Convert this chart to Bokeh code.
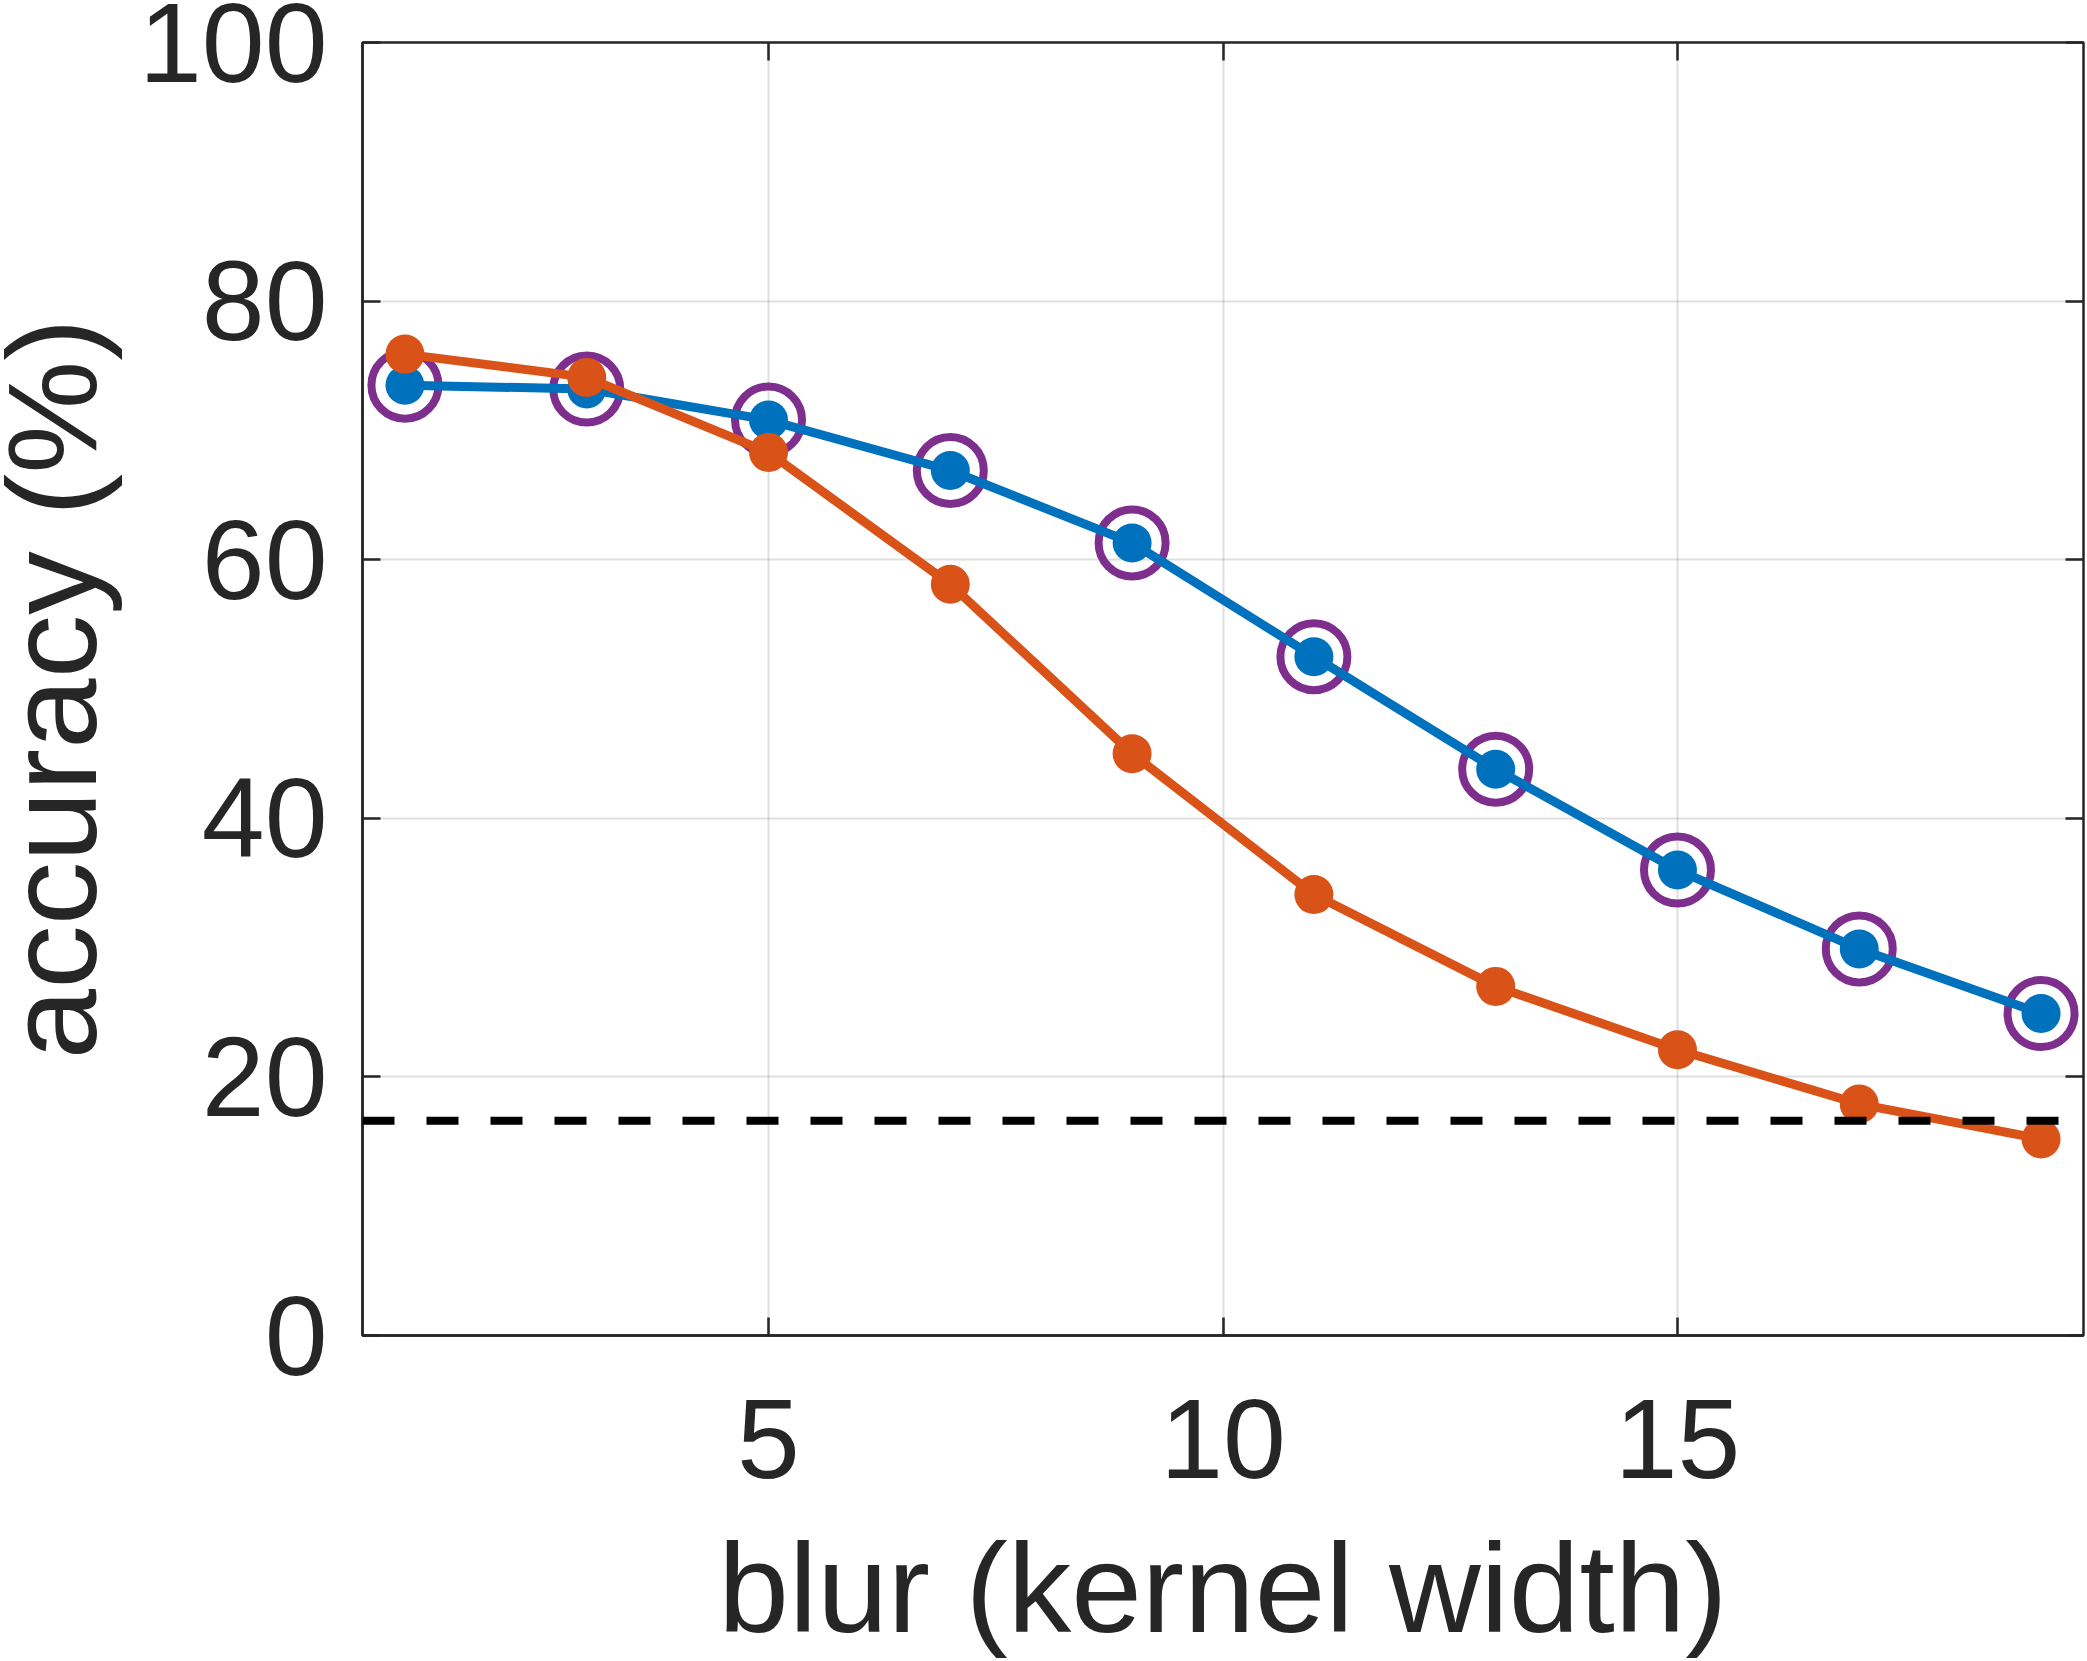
from bokeh.plotting import figure
from bokeh.models import LinearAxis, FixedTicker, Range1d, Span
from bokeh.embed import file_html
from bokeh.resources import INLINE

# ---- data ----
blur_width = [1, 3, 5, 7, 9, 11, 13, 15, 17, 19]
acc_blue = [73.5, 73.2, 70.8, 66.9, 61.3, 52.5, 43.8, 36.0, 29.9, 24.9]
acc_orange = [75.9, 74.1, 68.3, 58.1, 45.0, 34.1, 27.0, 22.1, 17.9, 15.2]
chance_level = 16.6
x_ticks = [5, 10, 15]
y_ticks = [0, 20, 40, 60, 80, 100]
x_label = "blur (kernel width)"
y_label = "accuracy (%)"

BLUE = "#0072BD"
ORANGE = "#D95319"
PURPLE = "#7E2F8E"
DARK = "#262626"
FONT = "Liberation Sans"

SHIFT = 27  # canvas starts slightly left of the page so the y title can hug the edge

p = figure(width=2087 + SHIFT, height=1661, output_backend="svg", toolbar_location=None,
           x_range=Range1d(0.533, 19.467), y_range=Range1d(0, 100),
           min_border_left=362 + SHIFT, min_border_top=42, min_border_right=4,
           min_border_bottom=325)
p.styles = {"margin-left": f"-{SHIFT}px"}
p.background_fill_color = "white"
p.border_fill_color = "white"
p.outline_line_color = DARK
p.outline_line_width = 2.5

for ax in (p.xaxis[0], p.yaxis[0]):
    ax.axis_line_color = DARK
    ax.axis_line_width = 2.5
    ax.major_tick_line_color = DARK
    ax.major_tick_line_width = 2.5
    ax.major_tick_in = 18
    ax.major_tick_out = 0
    ax.minor_tick_line_color = None
    ax.major_label_text_font = FONT
    ax.major_label_text_font_size = "113px"
    ax.major_label_text_color = DARK
    ax.axis_label_text_font = FONT
    ax.axis_label_text_font_size = "127px"
    ax.axis_label_text_font_style = "normal"
    ax.axis_label_text_color = DARK

p.xaxis[0].ticker = FixedTicker(ticks=x_ticks)
p.yaxis[0].ticker = FixedTicker(ticks=y_ticks)
p.xaxis[0].axis_label = x_label
p.yaxis[0].axis_label = y_label
p.xaxis[0].major_label_standoff = 64
p.xaxis[0].axis_label_standoff = 36
p.yaxis[0].major_label_standoff = 35
p.yaxis[0].axis_label_standoff = 13

# mirrored ticks on top and right
top_ax = LinearAxis(ticker=FixedTicker(ticks=x_ticks), major_label_text_font_size="0px",
                    major_label_standoff=0, axis_line_color=None,
                    major_tick_line_color=DARK, major_tick_line_width=2.5,
                    major_tick_in=18, major_tick_out=0, minor_tick_line_color=None)
right_ax = LinearAxis(ticker=FixedTicker(ticks=y_ticks), major_label_text_font_size="0px",
                      major_label_standoff=0, axis_line_color=None,
                      major_tick_line_color=DARK, major_tick_line_width=2.5,
                      major_tick_in=18, major_tick_out=0, minor_tick_line_color=None)
p.add_layout(top_ax, "above")
p.add_layout(right_ax, "right")

p.xgrid.ticker = FixedTicker(ticks=x_ticks)
p.ygrid.ticker = FixedTicker(ticks=y_ticks)
for g in (p.xgrid[0], p.ygrid[0]):
    g.grid_line_color = DARK
    g.grid_line_alpha = 0.15
    g.grid_line_width = 2

# chance line
p.add_layout(Span(location=chance_level, dimension="width", line_color="black",
                  line_width=8, line_dash="32 32"))

# purple rings
p.scatter(blur_width, acc_blue, marker="circle", size=67, fill_color=None,
          line_color=PURPLE, line_width=8)
# blue series
p.line(blur_width, acc_blue, line_color=BLUE, line_width=9)
p.scatter(blur_width, acc_blue, marker="circle", size=39, fill_color=BLUE,
          line_color=None)
# orange series
p.line(blur_width, acc_orange, line_color=ORANGE, line_width=9)
p.scatter(blur_width, acc_orange, marker="circle", size=39, fill_color=ORANGE,
          line_color=None)

open("out.html", "w").write(file_html(p, INLINE))
